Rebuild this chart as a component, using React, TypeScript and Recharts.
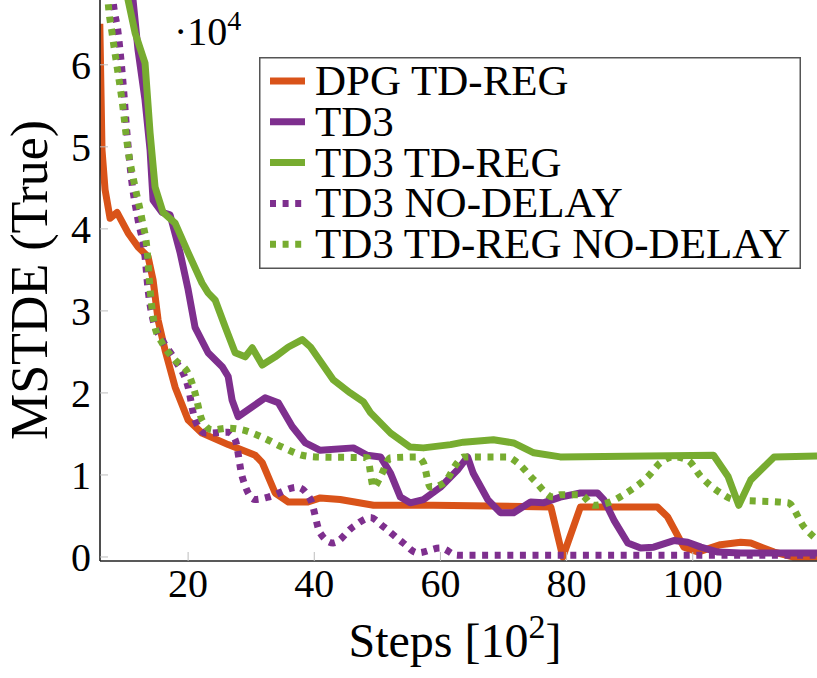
import React from "react";
import { LineChart, Line, XAxis, YAxis, Legend, Customized } from "recharts";

// steps in units of 10^2, values in units of 10^4
const dpgSteps = [6.0, 6.35, 6.83, 7.62, 8.73, 10.48, 12.06, 13.65, 14.44, 15.24, 16.35, 17.94, 20.0, 22.2, 26.35, 30.63, 31.75, 33.8, 35.9, 39.0, 40.95, 44.1, 49.4, 58.9, 77.5, 79.4, 82.2, 94.4, 96.0, 98.6, 100.8, 104.4, 107.6, 109.2, 112.9, 116.0, 119.7];
const dpgValues = [6.5, 4.96, 4.48, 4.13, 4.2, 3.95, 3.78, 3.66, 3.38, 2.89, 2.52, 2.07, 1.67, 1.51, 1.37, 1.24, 1.15, 0.78, 0.67, 0.67, 0.72, 0.7, 0.63, 0.63, 0.61, 0.0, 0.61, 0.61, 0.49, 0.12, 0.06, 0.15, 0.18, 0.17, 0.06, 0.0, 0.0];

const td3Steps = [10.8, 11.27, 12.06, 13.17, 13.97, 14.44, 15.87, 17.14, 18.73, 20.0, 21.1, 23.17, 25.4, 26.35, 26.98, 27.94, 30.16, 32.2, 34.3, 36.5, 38.6, 40.95, 46.2, 48.4, 50.5, 52.1, 53.65, 55.2, 57.3, 60.0, 62.7, 64.3, 65.2, 67.5, 69.5, 71.6, 74.3, 76.3, 79.0, 82.2, 84.9, 85.9, 87.5, 89.7, 91.75, 93.8, 97.0, 99.2, 101.3, 104.0, 107.6, 119.7];
const td3Values = [7.2, 6.79, 6.18, 5.57, 4.96, 4.35, 4.2, 4.17, 3.71, 3.26, 2.8, 2.49, 2.32, 2.2, 1.91, 1.71, 1.83, 1.94, 1.88, 1.59, 1.39, 1.3, 1.33, 1.24, 1.22, 1.02, 0.73, 0.66, 0.7, 0.85, 1.06, 1.22, 1.02, 0.7, 0.54, 0.54, 0.67, 0.66, 0.73, 0.78, 0.78, 0.7, 0.45, 0.17, 0.11, 0.12, 0.2, 0.18, 0.12, 0.06, 0.05, 0.05];

const td3RegSteps = [10.0, 10.48, 11.59, 13.17, 13.97, 14.76, 16.03, 17.94, 20.0, 22.2, 23.17, 24.3, 25.9, 27.46, 29.05, 30.16, 31.75, 33.8, 35.9, 38.1, 39.4, 43.0, 45.7, 47.8, 48.9, 52.1, 55.2, 57.3, 61.6, 63.65, 68.4, 71.6, 74.8, 79.0, 103.3, 105.6, 107.3, 109.2, 110.8, 112.9, 119.7];
const td3RegValues = [7.2, 6.79, 6.39, 6.02, 5.17, 4.51, 4.2, 4.07, 3.71, 3.34, 3.22, 3.13, 2.8, 2.49, 2.44, 2.55, 2.34, 2.44, 2.56, 2.65, 2.56, 2.16, 2.0, 1.89, 1.76, 1.51, 1.34, 1.33, 1.37, 1.4, 1.43, 1.39, 1.27, 1.22, 1.24, 0.98, 0.63, 0.94, 1.06, 1.22, 1.23];

const td3NoDelaySteps = [7.7, 8.1, 8.9, 9.68, 10.3, 11.1, 12.06, 13.17, 13.65, 14.44, 15.87, 17.94, 20.0, 21.1, 22.7, 26.35, 27.46, 28.57, 30.63, 32.7, 37.3, 39.4, 40.95, 43.0, 46.2, 48.9, 50.95, 54.1, 56.35, 60.0, 62.7, 119.7];
const td3NoDelayValues = [7.2, 6.79, 6.39, 5.78, 5.17, 4.56, 4.11, 3.66, 3.26, 2.89, 2.65, 2.4, 2.07, 1.67, 1.51, 1.52, 1.43, 0.98, 0.7, 0.73, 0.85, 0.7, 0.29, 0.17, 0.37, 0.48, 0.37, 0.17, 0.05, 0.11, 0.02, 0.02];

const td3RegNoDelaySteps = [7.0, 7.3, 7.94, 8.73, 9.52, 10.48, 11.59, 12.7, 13.5, 13.97, 14.76, 15.87, 17.94, 20.0, 21.1, 22.2, 23.8, 26.35, 28.57, 31.75, 34.9, 38.1, 40.2, 48.4, 49.4, 50.5, 52.1, 56.35, 57.3, 58.4, 60.5, 62.7, 63.65, 70.6, 72.2, 74.8, 77.9, 79.0, 82.2, 84.3, 86.5, 89.7, 92.9, 94.9, 97.0, 99.2, 101.3, 104.4, 106.5, 115.1, 117.6, 119.7];
const td3RegNoDelayValues = [7.2, 6.79, 6.39, 5.98, 5.57, 4.96, 4.51, 4.11, 3.74, 3.26, 2.8, 2.61, 2.4, 2.24, 2.0, 1.67, 1.55, 1.57, 1.55, 1.46, 1.34, 1.24, 1.22, 1.21, 0.85, 0.98, 1.21, 1.22, 1.15, 0.85, 0.9, 1.15, 1.22, 1.22, 1.15, 0.94, 0.73, 0.76, 0.76, 0.63, 0.66, 0.79, 0.98, 1.15, 1.22, 1.18, 0.98, 0.78, 0.7, 0.66, 0.37, 0.21];

const xTicks = [20, 40, 60, 80, 100];
const yTicks = [0, 1, 2, 3, 4, 5, 6];

const FONT = "Liberation Serif";

const toPoints = (steps: number[], values: number[]) =>
  steps.map((s, i) => ({ step: s, value: values[i] }));

const series = [
  { name: "DPG TD-REG", color: "#D95319", dotted: false, data: toPoints(dpgSteps, dpgValues) },
  { name: "TD3", color: "#7E2F8E", dotted: false, data: toPoints(td3Steps, td3Values) },
  { name: "TD3 TD-REG", color: "#77AC30", dotted: false, data: toPoints(td3RegSteps, td3RegValues) },
  { name: "TD3 NO-DELAY", color: "#7E2F8E", dotted: true, data: toPoints(td3NoDelaySteps, td3NoDelayValues) },
  { name: "TD3 TD-REG NO-DELAY", color: "#77AC30", dotted: true, data: toPoints(td3RegNoDelaySteps, td3RegNoDelayValues) },
];

const DASH = "6 6.6";

const YTick = (props: any) => {
  const { x, y, payload } = props;
  return (
    <g>
      <line x1={x} x2={x + 8} y1={y} y2={y} stroke="#bdbdbd" strokeWidth={1} />
      <text x={x - 9} y={y + 14} textAnchor="end" fontFamily={FONT} fontSize={40} fill="#000">
        {payload.value}
      </text>
    </g>
  );
};

const XTick = (props: any) => {
  const { x, y, payload } = props;
  return (
    <g>
      <line x1={x} x2={x} y1={y} y2={y - 9} stroke="#bdbdbd" strokeWidth={1} />
      <text x={x} y={y + 36} textAnchor="middle" fontFamily={FONT} fontSize={40} fill="#000">
        {payload.value}
      </text>
    </g>
  );
};

const renderLegend = () => (
  <svg width={542} height={212} style={{ display: "block" }}>
    <rect x={0.75} y={0.75} width={540.5} height={210.5} fill="#fff" stroke="#555" strokeWidth={1.5} />
    {series.map((s, i) => {
      const cy = 24 + i * 40.8;
      return (
        <g key={s.name}>
          <line
            x1={11}
            x2={46}
            y1={cy}
            y2={cy}
            stroke={s.color}
            strokeWidth={7}
            strokeDasharray={s.dotted ? DASH : undefined}
          />
          <text x={56} y={cy + 14} fontFamily={FONT} fontSize={43} fill="#000">
            {s.name}
          </text>
        </g>
      );
    })}
  </svg>
);

const Labels = () => (
  <g fill="#000">
    <text transform="translate(47,280) rotate(-90)" textAnchor="middle" fontSize={52} fontFamily={FONT}>
      MSTDE (True)
    </text>
    <text x={455} y={657} textAnchor="middle" fontSize={48} fontFamily={FONT}>
      Steps [10
      <tspan dy={-19} fontSize={34}>2</tspan>
      <tspan dy={19}>]</tspan>
    </text>
    <text x={174} y={45} fontSize={40} fontFamily={FONT}>
      ·10
      <tspan dy={-15} fontSize={28}>4</tspan>
    </text>
  </g>
);

export default function App() {
  return (
    <div style={{ position: "absolute", left: 0, top: 0, width: 817, height: 678, background: "#fff" }}>
      <LineChart width={817} height={678} margin={{ top: 0, right: 0, bottom: 0, left: 0 }}>
        <XAxis
          type="number"
          dataKey="step"
          domain={[6.03, 119.7]}
          allowDataOverflow
          ticks={xTicks}
          height={117}
          tickSize={0}
          tickMargin={0}
          tick={<XTick />}
          axisLine={{ stroke: "#222", strokeWidth: 1.6 }}
        />
        <YAxis
          type="number"
          dataKey="value"
          domain={[-0.049, 6.79]}
          allowDataOverflow
          ticks={yTicks}
          width={100}
          tickSize={0}
          tickMargin={0}
          tick={<YTick />}
          axisLine={{ stroke: "#222", strokeWidth: 1.6 }}
        />
        {series.map((s) => (
          <Line
            key={s.name}
            data={s.data}
            dataKey="value"
            name={s.name}
            type={s.dotted ? "monotone" : "linear"}
            stroke={s.color}
            strokeWidth={7}
            strokeDasharray={s.dotted ? DASH : undefined}
            strokeLinejoin="round"
            dot={false}
            activeDot={false}
            isAnimationActive={false}
          />
        ))}
        <Legend
          layout="vertical"
          align="center"
          verticalAlign="middle"
          content={renderLegend}
          wrapperStyle={{ left: 259, top: 57, width: 542, height: 212 }}
        />
        <Customized component={Labels} />
      </LineChart>
    </div>
  );
}
